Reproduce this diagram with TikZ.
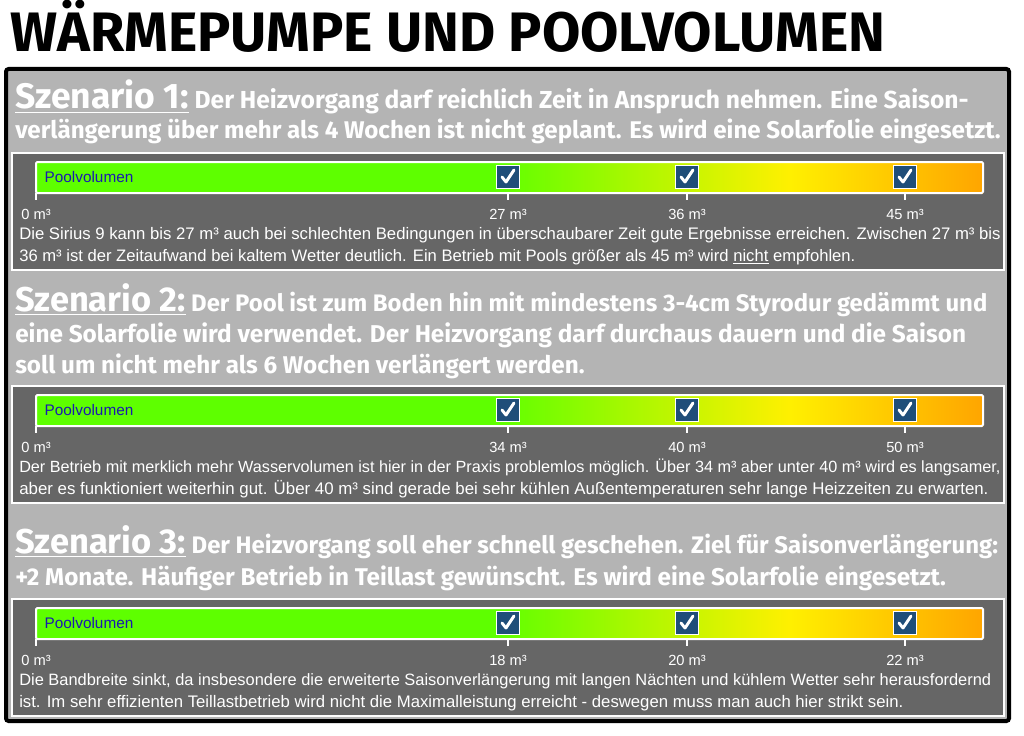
\documentclass[tikz,border=0pt]{standalone}
\usepackage{fontspec}
\setmainfont{Liberation Sans}
\newfontfamily\headfont{Fira Sans}
\usepackage{graphicx}
\definecolor{panel}{HTML}{B4B4B4}
\definecolor{inner}{HTML}{666666}
\definecolor{gr}{HTML}{5EFF00}
\definecolor{ye}{HTML}{FFF000}
\definecolor{orn}{HTML}{FFA500}
\definecolor{cb}{HTML}{1F4E79}
\definecolor{lbl}{HTML}{1A1AB0}
\newcommand{\hl}[1]{\resizebox{#1pt}{!}}
\tikzset{
  ln/.style={anchor=base west, inner sep=0pt, text=white},
  head/.style={ln, font=\headfont\bfseries},
  body/.style={ln, font=\fontsize{10}{12}\selectfont},
  chk/.style={fill=cb, draw=white, line width=0.5pt, minimum size=17pt, inner sep=0pt}
}
\newcommand{\mybar}[5]{% top y, labels a b c, name
  \fill[inner, draw=white, line width=1.5pt] (12,#1-9) rectangle (1004,#1+108);
  \fill[gr] (36,#1) rectangle (495,#1+31);
  \shade[left color=gr,right color=ye] (495,#1) rectangle (790,#1+31);
  \shade[left color=ye,right color=orn] (790,#1) rectangle (983,#1+31);
  \draw[white, line width=1.5pt, rounded corners=1pt] (36,#1) rectangle (983,#1+31);
  \node[anchor=west, text=lbl, font=\fontsize{11.5}{13}\selectfont] (#5pv) at (40,#1+15.5) {Poolvolumen};
  \foreach \x/\t [count=\i] in {36/0,508/#2,687/#3,905/#4}{
    \draw[white, line width=1.5pt] (\x,#1+31) -- (\x,#1+38);
    \node[anchor=base, text=white, font=\fontsize{11}{13}\selectfont] (#5l\i) at (\x,#1+57) {\t\ m³};
  }
  \foreach \x [count=\i] in {508,687,905}{
    \node[chk] (#5c\i) at (\x,#1+15) {};
    \draw[white, line width=2.2pt, line cap=round, line join=round] (\x-6,#1+15) -- (\x-2,#1+20) -- (\x+6,#1+8);
  }
}
\begin{document}
\begin{tikzpicture}[x=0.75pt,y=-0.75pt]
\useasboundingbox (0,0) rectangle (1024,735);
\fill[white] (0,0) rectangle (1024,735);
\node[ln, text=black, font=\headfont\bfseries] (title) at (10,52) {\hl{656}{WÄRMEPUMPE UND POOLVOLUMEN}};
\draw[panel, fill=panel] (6,69) rectangle (1009,721);
\draw[black, line width=3pt, rounded corners=2pt] (6,69) rectangle (1009,721);
% Scenario 1
\node[head] (h11) at (15,108) {\hl{715}{{\Large\underline{Szenario 1:}} Der Heizvorgang darf reichlich Zeit in Anspruch nehmen. Eine Saison-}};
\node[head] (h12) at (15,138) {\hl{739}{verlängerung über mehr als 4 Wochen ist nicht geplant. Es wird eine Solarfolie eingesetzt.}};
\mybar{162}{27}{36}{45}{a}
\node[body] (t11) at (19,239) {\hl{736}{Die Sirius 9 kann bis 27 m³ auch bei schlechten Bedingungen in überschaubarer Zeit gute Ergebnisse erreichen. Zwischen 27 m³ bis}};
\node[body] (t12) at (19,261) {\hl{627}{36 m³ ist der Zeitaufwand bei kaltem Wetter deutlich. Ein Betrieb mit Pools größer als 45 m³ wird \underline{nicht} empfohlen.}};
% Scenario 2
\node[head] (h21) at (15,311) {\hl{729}{{\Large\underline{Szenario 2:}} Der Pool ist zum Boden hin mit mindestens 3-4cm Styrodur gedämmt und}};
\node[head] (h22) at (15,342) {\hl{713}{eine Solarfolie wird verwendet. Der Heizvorgang darf durchaus dauern und die Saison}};
\node[head] (h23) at (15,373) {\hl{427}{soll um nicht mehr als 6 Wochen verlängert werden.}};
\mybar{395}{34}{40}{50}{b}
\node[body] (t21) at (19,472) {\hl{736}{Der Betrieb mit merklich mehr Wasservolumen ist hier in der Praxis problemlos möglich. Über 34 m³ aber unter 40 m³ wird es langsamer,}};
\node[body] (t22) at (19,494) {\hl{727}{aber es funktioniert weiterhin gut. Über 40 m³ sind gerade bei sehr kühlen Außentemperaturen sehr lange Heizzeiten zu erwarten.}};
% Scenario 3
\node[head] (h31) at (15,553) {\hl{737}{{\Large\underline{Szenario 3:}} Der Heizvorgang soll eher schnell geschehen. Ziel für Saisonverlängerung:}};
\node[head] (h32) at (15,585) {\hl{698}{+2 Monate. Häufiger Betrieb in Teillast gewünscht. Es wird eine Solarfolie eingesetzt.}};
\mybar{608}{18}{20}{22}{c}
\node[body] (t31) at (19,685) {\hl{729}{Die Bandbreite sinkt, da insbesondere die erweiterte Saisonverlängerung mit langen Nächten und kühlem Wetter sehr herausfordernd}};
\node[body] (t32) at (19,707) {\hl{663}{ist. Im sehr effizienten Teillastbetrieb wird nicht die Maximalleistung erreicht - deswegen muss man auch hier strikt sein.}};
\end{tikzpicture}
\end{document}
